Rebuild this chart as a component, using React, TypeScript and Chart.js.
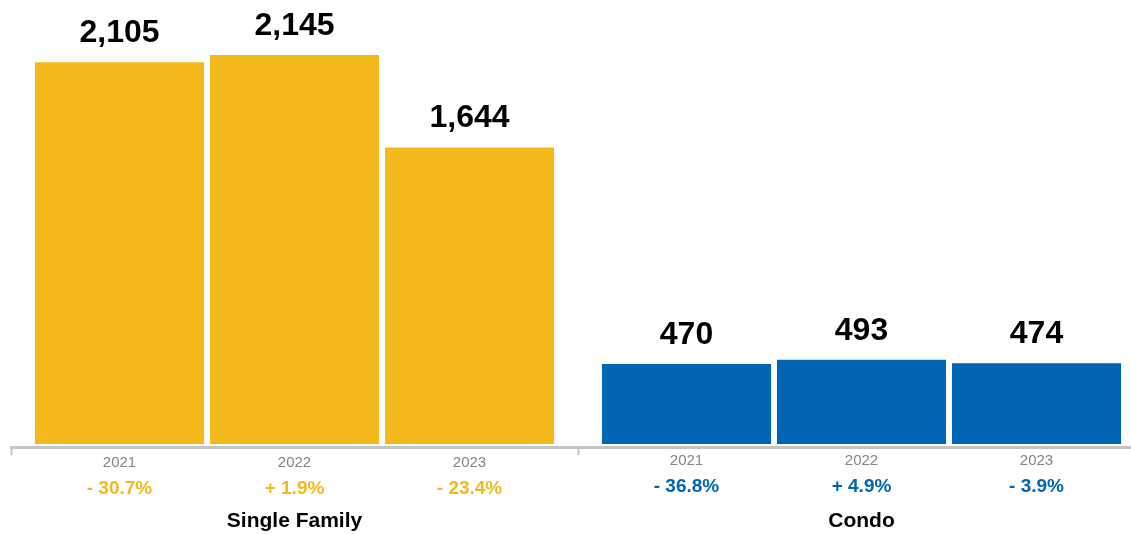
import React, { useEffect, useRef } from "react";
import { Chart, registerables } from "chart.js";

Chart.register(...registerables);

const categories = ["Single Family", "Condo"];
const years = ["2021", "2022", "2023"];
const singleFamily = [2105, 2145, 1644];
const condo = [470, 493, 474];
const singleFamilyChange = ["- 30.7%", "+ 1.9%", "- 23.4%"];
const condoChange = ["- 36.8%", "+ 4.9%", "- 3.9%"];

const GOLD = "#F4B91C";
const BLUE = "#0065B3";
const FONT = "'Liberation Sans', Arial, Helvetica, sans-serif";

const labelPlugin = {
  id: "barLabels",
  afterDraw(chart: any) {
    const ctx = chart.ctx;
    const xScale = chart.scales.x;
    const changes = [singleFamilyChange, condoChange];
    const colors = [GOLD, BLUE];
    ctx.save();
    ctx.textAlign = "center";
    ctx.textBaseline = "alphabetic";
    chart.data.datasets.forEach((ds: any, di: number) => {
      const meta = chart.getDatasetMeta(di);
      meta.data.forEach((el: any, ci: number) => {
        const v = ds.data[ci];
        ctx.fillStyle = "#000";
        ctx.font = `bold 32px ${FONT}`;
        ctx.fillText(v.toLocaleString("en-US"), el.x, el.y - 20);
        ctx.fillStyle = "#858585";
        ctx.font = `15px ${FONT}`;
        ctx.fillText(years[di], el.x, ci === 0 ? 467 : 465);
        ctx.fillStyle = colors[ci];
        ctx.font = `bold 19px ${FONT}`;
        ctx.fillText(changes[ci][di], el.x, ci === 0 ? 494 : 492);
      });
    });
    ctx.fillStyle = "#000";
    ctx.font = `bold 21px ${FONT}`;
    categories.forEach((c, i) => {
      ctx.fillText(c, xScale.getPixelForValue(i), 527);
    });
    ctx.restore();
  },
};

export default function App() {
  const ref = useRef<HTMLCanvasElement | null>(null);
  useEffect(() => {
    if (!ref.current) return;
    const chart = new Chart(ref.current, {
      type: "bar",
      data: {
        labels: categories,
        datasets: years.map((y, i) => ({
          label: y,
          data: [singleFamily[i], condo[i]],
          backgroundColor: [GOLD, BLUE],
          base: 36,
          categoryPercentage: 0.926,
          barPercentage: 0.966,
        })),
      },
      options: {
        animation: false,
        responsive: false,
        layout: { padding: { left: 11, right: 0, top: 0, bottom: 0 } },
        plugins: { legend: { display: false }, tooltip: { enabled: false } },
        scales: {
          x: {
            offset: true,
            grid: {
              drawOnChartArea: false,
              drawTicks: true,
              tickLength: 8,
              tickColor: "#C4C4C4",
              tickWidth: 2,
            },
            border: { display: true, color: "#C4C4C4", width: 3 },
            ticks: { display: false },
            afterFit: (scale: any) => {
              scale.height = 87;
            },
          },
          y: {
            display: false,
            min: 20,
            max: 2443,
          },
        },
      },
      plugins: [labelPlugin],
    });
    return () => chart.destroy();
  }, []);
  return (
    <div
      style={{
        position: "fixed",
        left: 0,
        top: 0,
        width: "100vw",
        height: "100vh",
        overflow: "hidden",
        background: "#fff",
      }}
    >
      <canvas ref={ref} width={1145} height={534} style={{ display: "block", width: 1145, height: 534 }} />
    </div>
  );
}
